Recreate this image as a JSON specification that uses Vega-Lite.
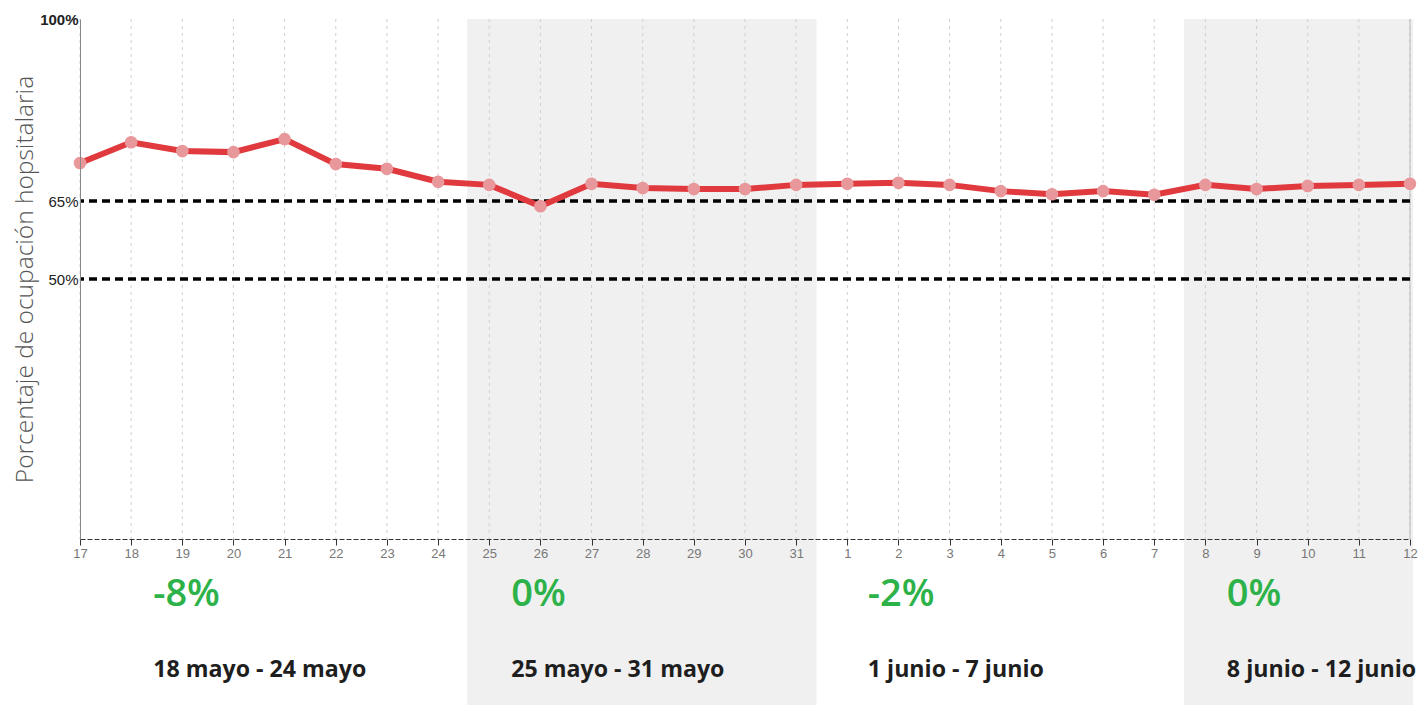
{
  "$schema": "https://vega.github.io/schema/vega-lite/v6.json",
  "width": 1330,
  "height": 520,
  "autosize": {"type": "none"},
  "padding": {"left": 80, "top": 19, "right": 10, "bottom": 166},
  "background": "white",
  "config": {"view": {"stroke": null}, "font": "Open Sans"},
  "datasets": {
    "serie": [
      {"i": 0, "dia": "17", "v": 72.3},
      {"i": 1, "dia": "18", "v": 76.3},
      {"i": 2, "dia": "19", "v": 74.6},
      {"i": 3, "dia": "20", "v": 74.4},
      {"i": 4, "dia": "21", "v": 76.9},
      {"i": 5, "dia": "22", "v": 72.1},
      {"i": 6, "dia": "23", "v": 71.2},
      {"i": 7, "dia": "24", "v": 68.7},
      {"i": 8, "dia": "25", "v": 68.1},
      {"i": 9, "dia": "26", "v": 64.0},
      {"i": 10, "dia": "27", "v": 68.3},
      {"i": 11, "dia": "28", "v": 67.5},
      {"i": 12, "dia": "29", "v": 67.3},
      {"i": 13, "dia": "30", "v": 67.3},
      {"i": 14, "dia": "31", "v": 68.1},
      {"i": 15, "dia": "1", "v": 68.3},
      {"i": 16, "dia": "2", "v": 68.5},
      {"i": 17, "dia": "3", "v": 68.1},
      {"i": 18, "dia": "4", "v": 66.9},
      {"i": 19, "dia": "5", "v": 66.3},
      {"i": 20, "dia": "6", "v": 66.9},
      {"i": 21, "dia": "7", "v": 66.2},
      {"i": 22, "dia": "8", "v": 68.1},
      {"i": 23, "dia": "9", "v": 67.3},
      {"i": 24, "dia": "10", "v": 67.9},
      {"i": 25, "dia": "11", "v": 68.1},
      {"i": 26, "dia": "12", "v": 68.3}
    ],
    "bandas": [
      {"x0": 7.57, "x1": 14.4, "ytop": 100, "ybot": -32},
      {"x0": 21.58, "x1": 26.06, "ytop": 100, "ybot": -32}
    ],
    "umbrales": [{"u": 65}, {"u": 50}],
    "semanas": [
      {"xs": 1.43, "cambio": "-8%", "rango": "18 mayo - 24 mayo", "yc": -10.8, "yr": -25.2},
      {"xs": 8.43, "cambio": "0%", "rango": "25 mayo - 31 mayo", "yc": -10.8, "yr": -25.2},
      {"xs": 15.4, "cambio": "-2%", "rango": "1 junio - 7 junio", "yc": -10.8, "yr": -25.2},
      {"xs": 22.42, "cambio": "0%", "rango": "8 junio - 12 junio", "yc": -10.8, "yr": -25.2}
    ],
    "borde": [{"i": 26}]
  },
  "layer": [
    {
      "data": {"name": "bandas"},
      "mark": {"type": "rect", "color": "#f0f0f0"},
      "encoding": {
        "x": {
          "field": "x0", "type": "quantitative",
          "scale": {"domain": [0, 26], "nice": false, "zero": false},
          "axis": {
            "values": [0,1,2,3,4,5,6,7,8,9,10,11,12,13,14,15,16,17,18,19,20,21,22,23,24,25,26],
            "labelExpr": "['17','18','19','20','21','22','23','24','25','26','27','28','29','30','31','1','2','3','4','5','6','7','8','9','10','11','12'][datum.value]",
            "title": null,
            "grid": false,
            "zindex": 1,
            "domainColor": "#333",
            "domainDash": [5, 2],
            "domainWidth": 1,
            "tickColor": "#333",
            "tickSize": 6,
            "labelColor": "#777",
            "labelFontSize": 13,
            "labelFont": "Liberation Sans",
            "labelFlush": false,
            "labelPadding": 2
          }
        },
        "x2": {"field": "x1"},
        "y": {
          "field": "ytop", "type": "quantitative",
          "scale": {"domain": [0, 100], "nice": false},
          "axis": {
            "values": [50, 65, 100],
            "labelExpr": "datum.value + '%'",
            "grid": false,
            "ticks": false,
            "zindex": 1,
            "domainColor": "#888",
            "labelColor": "#222",
            "labelFontSize": 15,
            "labelFont": "Liberation Sans",
            "labelFontWeight": {"condition": {"test": "datum.value == 100", "value": "bold"}, "value": "normal"},
            "labelPadding": 2,
            "labelFlush": false,
            "title": "Porcentaje de ocupación hopsitalaria",
            "titleFontSize": 24.5,
            "titleFontWeight": 300,
            "titleColor": "#555",
            "titlePadding": 2
          }
        },
        "y2": {"field": "ybot"}
      }
    },
    {
      "data": {"name": "serie"},
      "mark": {"type": "rule", "color": "#cfcfcf", "strokeDash": [3, 4], "strokeWidth": 1},
      "encoding": {"x": {"field": "i", "type": "quantitative"}}
    },
    {
      "data": {"name": "borde"},
      "mark": {"type": "rule", "color": "#bbbbbb", "strokeWidth": 1},
      "encoding": {"x": {"field": "i", "type": "quantitative"}}
    },
    {
      "data": {"name": "umbrales"},
      "mark": {"type": "rule", "color": "#000", "strokeDash": [8, 5], "strokeWidth": 3.5},
      "encoding": {"y": {"field": "u", "type": "quantitative"}}
    },
    {
      "data": {"name": "serie"},
      "mark": {"type": "line", "color": "#e03a3e", "strokeWidth": 6},
      "encoding": {
        "x": {"field": "i", "type": "quantitative"},
        "y": {"field": "v", "type": "quantitative"}
      }
    },
    {
      "data": {"name": "serie"},
      "mark": {"type": "circle", "color": "#e8979b", "opacity": 1, "size": 160},
      "encoding": {
        "x": {"field": "i", "type": "quantitative"},
        "y": {"field": "v", "type": "quantitative"}
      }
    },
    {
      "data": {"name": "semanas"},
      "mark": {"type": "text", "align": "left", "baseline": "middle", "color": "#2db24a", "fontSize": 38, "fontWeight": 600, "font": "Open Sans"},
      "encoding": {
        "x": {"field": "xs", "type": "quantitative"},
        "y": {"field": "yc", "type": "quantitative"},
        "text": {"field": "cambio"}
      }
    },
    {
      "data": {"name": "semanas"},
      "mark": {"type": "text", "align": "left", "baseline": "middle", "color": "#1e1e1e", "fontSize": 23.2, "fontWeight": "bold", "font": "Open Sans"},
      "encoding": {
        "x": {"field": "xs", "type": "quantitative"},
        "y": {"field": "yr", "type": "quantitative"},
        "text": {"field": "rango"}
      }
    }
  ]
}
